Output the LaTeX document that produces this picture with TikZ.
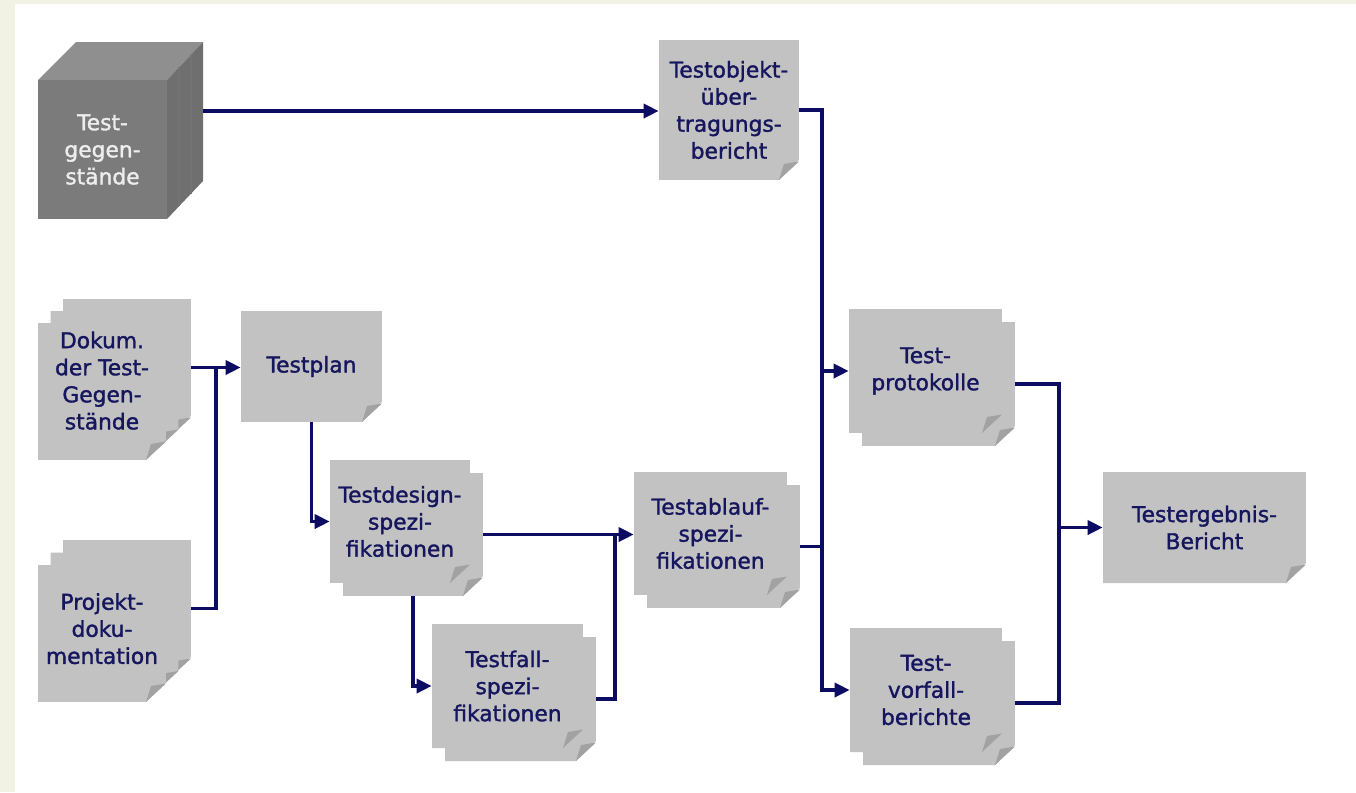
\documentclass[tikz,border=0pt]{standalone}
\usepackage{fontspec}
\setmainfont{DejaVu Sans}[FakeBold=1.5]
\usetikzlibrary{
  arrows.meta,
  calc,
  positioning
}
\definecolor{navy}{HTML}{16165E}
\definecolor{linenavy}{HTML}{0C0C62}
\definecolor{pagegray}{HTML}{C2C2C2}
\definecolor{foldgray}{HTML}{A2A2A2}
\definecolor{cubefront}{HTML}{7B7B7B}
\definecolor{cubetop}{HTML}{8F8F8F}
\definecolor{cubeside}{HTML}{6F6F6F}
\definecolor{cream}{HTML}{F1F2E3}
\tikzset{
  page/.style={
    inner sep=0pt, text=navy, align=center,
    font=\fontsize{12.4}{15.4}\selectfont,
    path picture={
      \fill[pagegray] (path picture bounding box.north west)
        -- (path picture bounding box.north east)
        -- ([yshift=0.4cm]path picture bounding box.south east)
        -- ([xshift=-0.4cm]path picture bounding box.south east)
        -- (path picture bounding box.south west) -- cycle;
      \fill[foldgray] ([xshift=-0.4cm]path picture bounding box.south east)
        -- ([yshift=0.37cm]path picture bounding box.south east)
        -- ([xshift=-0.3cm,yshift=0.32cm]path picture bounding box.south east) -- cycle;
    }
  },
  pg/.style 2 args={minimum width=#1, minimum height=#2},
  cubetext/.style={inner sep=0pt, text=white!93!black, align=center,
    font=\fontsize{12.4}{15.4}\selectfont},
  flowline/.style={draw=linenavy, line width=2pt},
  flow/.style={flowline, -{Triangle[length=0.3cm, width=0.28cm]}},
}

\begin{document}
\begin{tikzpicture}[x=0.02cm, y=-0.02cm]
\useasboundingbox (0,0) rectangle (1356,792);
\fill[cream] (0,0) rectangle (1356,792);
\fill[white] (15,4) rectangle (1356,792);

% --- Cube: Testgegenstaende ---
\fill[cubetop] (38,80) -- (167,80) -- (203,42) -- (76,42) -- cycle;
\fill[cubeside] (167,80) -- (203,42) -- (203,181) -- (167,219) -- cycle;
\draw[black!55, line width=0.8pt] (179,67.3) -- (179,206.3);
\draw[black!55, line width=0.8pt] (191,54.7) -- (191,193.7);
\fill[cubefront] (38,80) rectangle (167,219);
\node[cubetext, pg={2.58cm}{2.78cm}] (tgeg) at (102.5,149.5) {Test-\\gegen-\\stände};
\coordinate (tgegR) at (203,111);

% --- Single pages ---
\node[page, pg={2.8cm}{2.8cm}] (tobj) at (729,110) {Testobjekt-\\über-\\tragungs-\\bericht};
\node[page, pg={2.82cm}{2.22cm}] (tplan) at (311.5,366.5) {Testplan};
\node[page, pg={4.06cm}{2.22cm}] (terg) at (1204.5,527.5) {Testergebnis-\\Bericht};

% --- Stacks of three (left) ---
\node[page, pg={2.56cm}{2.74cm}] (dokumC) at (127,367.5) {};
\node[page, pg={2.56cm}{2.74cm}] (dokumB) at (114.5,379.5) {};
\node[page, pg={2.56cm}{2.74cm}, text depth=0.44cm] (dokum) at (102,391.5) {Dokum.\\der Test-\\Gegen-\\stände};

\node[page, pg={2.56cm}{2.74cm}] (projektC) at (127,608.5) {};
\node[page, pg={2.56cm}{2.74cm}] (projektB) at (114.5,621) {};
\node[page, pg={2.56cm}{2.74cm}, text depth=0.2cm] (projekt) at (102,633.5) {Projekt-\\doku-\\mentation};

% --- Stacks of two ---
\node[page, pg={2.8cm}{2.46cm}] (tdesignB) at (413,534.5) {};
\node[page, pg={2.8cm}{2.46cm}] (tdesign) at (400,521.5) {Testdesign-\\spezi-\\fikationen};

\node[page, pg={3.02cm}{2.48cm}] (tfallB) at (520.5,699) {};
\node[page, pg={3.02cm}{2.48cm}] (tfall) at (507.5,686) {Testfall-\\spezi-\\fikationen};

\node[page, pg={3.06cm}{2.46cm}] (tablaufB) at (723.5,546.5) {};
\node[page, pg={3.06cm}{2.46cm}] (tablauf) at (710.5,533.5) {Testablauf-\\spezi-\\fikationen};

\node[page, pg={3.06cm}{2.48cm}] (tprotB) at (938.5,384) {};
\node[page, pg={3.06cm}{2.48cm}] (tprot) at (925.5,371) {Test-\\protokolle};

\node[page, pg={3.04cm}{2.48cm}] (tvorfB) at (939,703) {};
\node[page, pg={3.04cm}{2.48cm}] (tvorf) at (926,690) {Test-\\vorfall-\\berichte};

% bus lines
\coordinate (busL) at (216,0);
\coordinate (busM) at (615,0);
\coordinate (busR) at (822,0);
\coordinate (busE) at (1059,0);

% --- Connectors ---
\draw[flow] (tgegR) -- (tgegR -| tobj.west);
\draw[flow] (tobj.east) -- (tobj.east -| busR) |- (tvorf.west);
\draw[flow] (busR |- tprot.west) -- (tprot.west);
\draw[flowline] (tablaufB.east) -- (tablaufB.east -| busR);
\draw[flowline] (tprotB.east) -| (busE |- tvorfB.east) -- (tvorfB.east);
\draw[flow] (busE |- terg.west) -- (terg.west);

\draw[flow] (dokumC.east) -- (dokumC.east -| tplan.west);
\draw[flowline] (projektC.east) -| (busL |- dokumC.east);
\draw[flow] (tplan.south) |- (tdesign.west);
\draw[flow] (tdesignB.south) |- (tfall.west);
\draw[flow] (tdesignB.east) -- (tdesignB.east -| tablauf.west);
\draw[flowline] (tfallB.east) -| (busM |- tdesignB.east);

\end{tikzpicture}
\end{document}
